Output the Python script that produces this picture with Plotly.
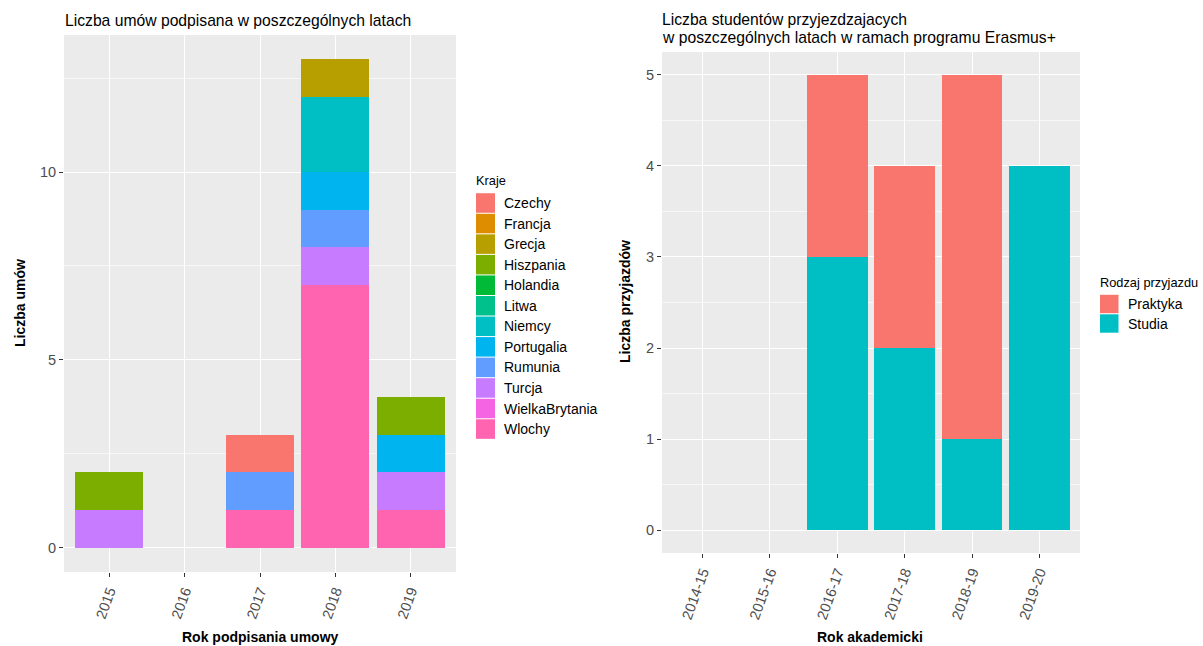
import plotly.graph_objects as go

W, H = 1203, 646

# ---------------- data ----------------
years = ["2015", "2016", "2017", "2018", "2019"]
countries = ["Czechy", "Francja", "Grecja", "Hiszpania", "Holandia", "Litwa",
             "Niemcy", "Portugalia", "Rumunia", "Turcja", "WielkaBrytania", "Wlochy"]
country_colors = ["#F8766D", "#DE8C00", "#B79F00", "#7CAE00", "#00BA38", "#00C08B",
                  "#00BFC4", "#00B4F0", "#619CFF", "#C77CFF", "#F564E3", "#FF64B0"]
# counts per country per year (2015..2019)
agreements = {
    "Czechy":         [0, 0, 1, 0, 0],
    "Francja":        [0, 0, 0, 0, 0],
    "Grecja":         [0, 0, 0, 1, 0],
    "Hiszpania":      [1, 0, 0, 0, 1],
    "Holandia":       [0, 0, 0, 0, 0],
    "Litwa":          [0, 0, 0, 0, 0],
    "Niemcy":         [0, 0, 0, 2, 0],
    "Portugalia":     [0, 0, 0, 1, 1],
    "Rumunia":        [0, 0, 1, 1, 0],
    "Turcja":         [1, 0, 0, 1, 1],
    "WielkaBrytania": [0, 0, 0, 0, 0],
    "Wlochy":         [0, 0, 1, 7, 1],
}

acad_years = ["2014-15", "2015-16", "2016-17", "2017-18", "2018-19", "2019-20"]
trip_types = ["Praktyka", "Studia"]
trip_colors = ["#F8766D", "#00BFC4"]
praktyka = [0, 0, 2, 2, 4, 0]
studia = [0, 0, 3, 2, 1, 4]

# ---------------- helpers ----------------
def fx(x):
    return x / W

def fy(y):
    return 1 - y / H

FONT = "Liberation Sans, Arial, sans-serif"
PANEL = "#EBEBEB"
TICKC = "#4D4D4D"
TKS = 14.5

fig = go.Figure()

# left panel: stacked bars (bottom of stack = last level, as ggplot)
for name, col in reversed(list(zip(countries, country_colors))):
    vals = [v if v else None for v in agreements[name]]
    if not any(vals):
        continue
    fig.add_trace(go.Bar(x=years, y=vals, name=name, marker=dict(color=col, line=dict(width=0)),
                         width=0.9, xaxis="x", yaxis="y", showlegend=False))

# right panel
series = {"Praktyka": praktyka, "Studia": studia}
for name, col in reversed(list(zip(trip_types, trip_colors))):
    vals = [v if v else None for v in series[name]]
    fig.add_trace(go.Bar(x=acad_years, y=vals, name=name, marker=dict(color=col, line=dict(width=0)),
                         width=0.9, xaxis="x2", yaxis="y2", showlegend=False))

common_x = dict(type="category", showgrid=True, gridcolor="white", gridwidth=1.1,
                ticks="outside", ticklen=4, tickcolor="#333333", tickangle=-70,
                tickfont=dict(family=FONT, size=TKS, color=TICKC), zeroline=False,
                showline=False, fixedrange=True)
common_y = dict(showgrid=True, gridcolor="white", gridwidth=1.1, zeroline=False,
                ticks="outside", ticklen=4, tickcolor="#333333",
                tickfont=dict(family=FONT, size=TKS, color=TICKC), showline=False)

fig.update_layout(
    width=W, height=H, margin=dict(l=0, r=0, t=0, b=0),
    paper_bgcolor="white", plot_bgcolor=PANEL, barmode="stack", bargap=0.1,
    showlegend=False,
    xaxis=dict(common_x, domain=[fx(64), fx(456)], range=[-0.6, 4.6],
               categoryorder="array", categoryarray=years, anchor="y"),
    yaxis=dict(common_y, domain=[fy(572), fy(35)], range=[-0.65, 13.65],
               tickvals=[0, 5, 10], anchor="x",
               minor=dict(showgrid=True, gridcolor="#F7F7F7", gridwidth=0.6,
                          tickvals=[2.5, 7.5, 12.5], ticks="")),
    xaxis2=dict(common_x, domain=[fx(662), fx(1080)], range=[-0.6, 5.6],
                categoryorder="array", categoryarray=acad_years, anchor="y2"),
    yaxis2=dict(common_y, domain=[fy(553), fy(52)], range=[-0.25, 5.25],
                tickvals=[0, 1, 2, 3, 4, 5], anchor="x2",
                minor=dict(showgrid=True, gridcolor="#F7F7F7", gridwidth=0.6,
                           tickvals=[0.5, 1.5, 2.5, 3.5, 4.5], ticks="")),
)

ann = []
shapes = []

def text(x, y, s, size=13, bold=False, xanchor="left", angle=0, color="black"):
    ann.append(dict(x=fx(x), y=fy(y), xref="paper", yref="paper", text=("<b>%s</b>" % s) if bold else s,
                    showarrow=False, xanchor=xanchor, yanchor="middle", textangle=angle,
                    font=dict(family=FONT, size=size, color=color)))

# titles
TS = 15.7
text(63, 20, "Liczba umów podpisana w poszczególnych latach", size=TS)
text(660, 19, "Liczba studentów przyjezdzajacych", size=TS)
text(660, 37, "w poszczególnych latach w ramach programu Erasmus+", size=TS)

# axis titles
AS = 14
text(260, 637, "Rok podpisania umowy", size=AS, bold=True, xanchor="center")
text(870, 637, "Rok akademicki", size=AS, bold=True, xanchor="center")
text(20, 303, "Liczba umów", size=AS, bold=True, xanchor="center", angle=-90)
text(625, 302, "Liczba przyjazdów", size=AS, bold=True, xanchor="center", angle=-90)

# legend 1
LS = 14
LT = 12.8
text(474, 180, "Kraje", size=LT)
step = 20.55
for i, (name, col) in enumerate(zip(countries, country_colors)):
    cy = 203 + i * step
    shapes.append(dict(type="rect", xref="paper", yref="paper",
                       x0=fx(476), x1=fx(495), y0=fy(cy + step / 2 - 0.5), y1=fy(cy - step / 2 + 0.5),
                       fillcolor=col, line=dict(width=0)))
    text(502, cy, name, size=LS)

# legend 2
text(1098, 283, "Rodzaj przyjazdu", size=LT)
for i, (name, col) in enumerate(zip(trip_types, trip_colors)):
    cy = 304 + i * 19.5
    shapes.append(dict(type="rect", xref="paper", yref="paper",
                       x0=fx(1100), x1=fx(1118.5), y0=fy(cy + 9.2), y1=fy(cy - 9.2),
                       fillcolor=col, line=dict(width=0)))
    text(1126, cy, name, size=LS)

fig.update_layout(annotations=ann, shapes=shapes)
fig.write_html("out.html", config={"displayModeBar": False},
               post_script="document.body.style.margin='0';document.body.style.overflow='hidden';")
